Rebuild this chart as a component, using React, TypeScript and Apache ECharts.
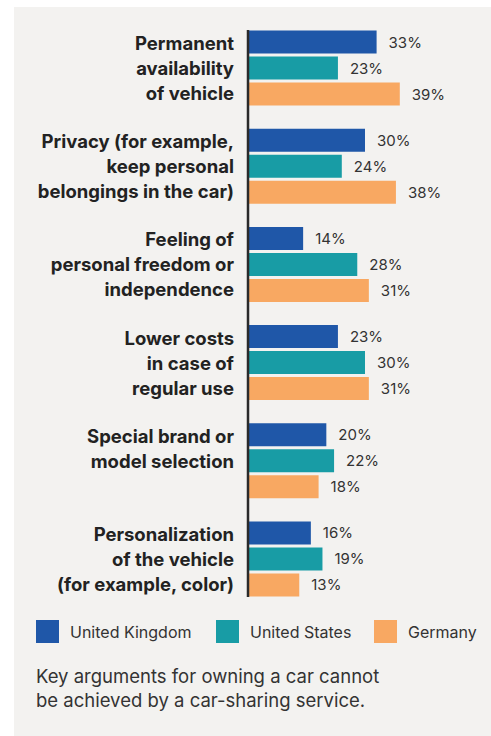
import React, { useEffect, useRef } from "react";
import * as echarts from "echarts";

const categories = [
  "Permanent\navailability\nof vehicle",
  "Privacy (for example,\nkeep personal\nbelongings in the car)",
  "Feeling of\npersonal freedom or\nindependence",
  "Lower costs\nin case of\nregular use",
  "Special brand or\nmodel selection",
  "Personalization\nof the vehicle\n(for example, color)",
];
const seriesNames = ["United Kingdom", "United States", "Germany"];
const ukValues = [33, 30, 14, 23, 20, 16];
const usValues = [23, 24, 28, 30, 22, 19];
const deValues = [39, 38, 31, 31, 18, 13];
const colors = ["#1f57a8", "#189ca5", "#f8a862"];
const footnote = "Key arguments for owning a car cannot\nbe achieved by a car-sharing service.";

const FONT = "Inter, 'Noto Sans', sans-serif";

export default function App() {
  const ref = useRef<HTMLDivElement>(null);
  useEffect(() => {
    if (!ref.current) return;
    const chart = echarts.init(ref.current, undefined, { renderer: "svg" });
    const values = [ukValues, usValues, deValues];
    const legendLefts = [36, 216, 374];
    chart.setOption({
      animation: false,
      backgroundColor: "#ffffff",
      textStyle: { fontFamily: FONT },
      graphic: [
        { type: "rect", left: 14, top: 7, shape: { width: 477, height: 729 }, style: { fill: "#f3f2f0" }, z: -10 },
        { type: "line", shape: { x1: 248, y1: 30, x2: 248, y2: 597 }, style: { stroke: "#2a2a2a", lineWidth: 2.5 }, z: 10 },
        {
          type: "text",
          left: 36,
          top: 664,
          style: { text: footnote, fill: "#333333", font: `18.5px ${FONT}`, lineHeight: 24 },
        },
      ],
      legend: seriesNames.map((n, i) => ({
        data: [n],
        left: legendLefts[i],
        top: 620,
        padding: 0,
        itemWidth: 23,
        itemHeight: 23,
        itemGap: 0,
        icon: "rect",
        textStyle: { fontSize: 16, color: "#333333", fontFamily: FONT, padding: [0, 0, 0, 6] },
        selectedMode: false,
      })),
      grid: { left: 249, top: 19, width: 232, height: 589, containLabel: false },
      xAxis: { type: "value", min: 0, max: 60, show: false },
      yAxis: {
        type: "category",
        inverse: true,
        data: categories,
        axisLine: { show: false },
        axisTick: { show: false },
        axisLabel: {
          margin: 15,
          fontSize: 18.5,
          fontWeight: "bold",
          color: "#222222",
          lineHeight: 25,
          fontFamily: FONT,
          align: "right",
          formatter: (v: string) => {
            const lines = v.split("\n");
            while (lines.length < 3) lines.push(" ");
            return lines.join("\n");
          },
        },
      },
      series: seriesNames.map((n, i) => ({
        name: n,
        type: "bar",
        data: values[i],
        barWidth: 23,
        barGap: "13%",
        itemStyle: { color: colors[i] },
        label: {
          show: true,
          position: "right",
          distance: 12,
          formatter: "{c}%",
          fontSize: 15,
          color: "#333333",
          fontFamily: FONT,
        },
      })),
    });
    return () => chart.dispose();
  }, []);
  return (
    <div
      ref={ref}
      style={{ position: "fixed", left: 0, top: 0, width: 491, height: 736 }}
    />
  );
}
